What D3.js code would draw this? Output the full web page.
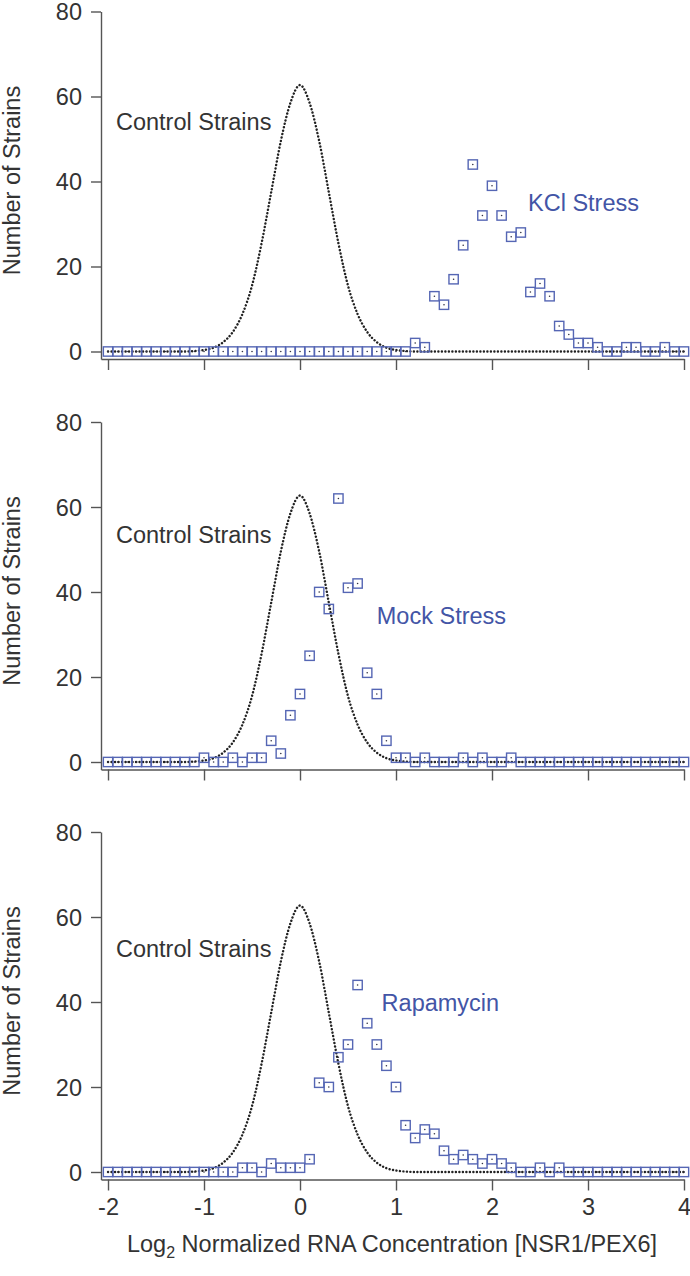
<!DOCTYPE html>
<html><head><meta charset="utf-8">
<script src="https://cdn.jsdelivr.net/npm/d3@7"></script>
<style>body{margin:0;background:#fff}svg{display:block}</style>
</head><body>
<script>
// ---------- data ----------
const binStart = -2.0, binStep = 0.1;
const kclValues = [
  0,0,0,0,0,0,0,0,0,0,   // -2.0 .. -1.1
  0,0,0,0,0,0,0,0,0,0,   // -1.0 .. -0.1
  0,0,0,0,0,0,0,0,0,0,   // 0.0 .. 0.9
  0,0,2,1,13,11,17,25,44,32, // 1.0 .. 1.9
  39,32,27,28,14,16,13,6,4,2, // 2.0 .. 2.9
  2,1,0,0,1,1,0,0,1,0,   // 3.0 .. 3.9
  0                      // 4.0
];
const mockValues = [
  0,0,0,0,0,0,0,0,0,0,
  1,0,0,1,0,1,1,5,2,11,
  16,25,40,36,62,41,42,21,16,5,
  1,1,0,1,0,0,0,1,0,1,
  0,0,1,0,0,0,0,0,0,0,
  0,0,0,0,0,0,0,0,0,0,
  0
];
const rapaValues = [
  0,0,0,0,0,0,0,0,0,0,
  0,0,0,0,1,1,0,2,1,1,
  1,3,21,20,27,30,44,35,30,25,
  20,11,8,10,9,5,3,4,3,2,
  3,2,1,0,0,1,0,1,0,0,
  0,0,0,0,0,0,0,0,0,0,
  0
];
// control strains fitted curve, read at these x positions
const controlX = [-2.0,-1.5,-1.2,-1.1,-1.0,-0.9,-0.8,-0.7,-0.6,-0.5,-0.4,-0.3,-0.2,-0.1,0.0,0.1,0.2,0.3,0.4,0.5,0.6,0.7,0.8,0.9,1.0,1.1,1.2,1.5,2.0,3.0,4.0];
const controlY = [0,0,0,0.1,0.35,0.9,2.2,4.6,8.8,15.5,25.5,37.5,49.5,58.5,62.7,58.5,49.5,37.5,25.5,15.5,8.8,4.6,2.2,0.9,0.35,0.1,0,0,0,0,0];
const panelNames = ["KCl Stress","Mock Stress","Rapamycin"];
const controlLabel = "Control Strains";
const yTicks = [0,20,40,60,80];
const xTicks = [-2,-1,0,1,2,3,4];
const yTitle = "Number of Strains";

// ---------- layout ----------
const W = 690, H = 1276;
const zeroYs = [351.5, 762, 1172];
const pxPerUnit = 4.25;
const blue = "#4355a6", sqBlue = "#5566b4", ink = "#333";
const font = "'Liberation Sans', Arial, Helvetica, sans-serif";
const fs = "23.5px";
const seriesLabelPos = [[2.375, 33.0],[0.80, 32.5],[0.85, 37.9]];
const controlLabelPos = [[-1.917, 52.1],[-1.917, 51.5],[-1.917, 50.6]];
const allSeries = [kclValues, mockValues, rapaValues];

const svg = d3.select("body").append("svg").attr("width", W).attr("height", H)
  .style("font-family", font);

const x = d3.scaleLinear().domain([-2.073, 4]).range([101, 684]);

allSeries.forEach((vals, i) => {
  const z = zeroYs[i];
  const y = d3.scaleLinear().domain([-7.5/pxPerUnit, 80]).range([z + 7.5, z - 340]);
  const g = svg.append("g");

  const ya = g.append("g").attr("transform", `translate(${x(-2.073)},0)`)
    .call(d3.axisLeft(y).tickValues(yTicks).tickSize(10).tickSizeOuter(0).tickPadding(9).tickFormat(d => String(d)));
  const xa = g.append("g").attr("transform", `translate(0,${y(-7.5/pxPerUnit)})`)
    .call(d3.axisBottom(x).tickValues(xTicks).tickSize(11).tickSizeOuter(0).tickPadding(8)
      .tickFormat(d => i === 2 ? String(d) : ""));
  [ya, xa].forEach(a => {
    a.select(".domain").attr("stroke", "#555").attr("stroke-width", 1.4);
    a.selectAll(".tick line").attr("stroke", "#555").attr("stroke-width", 1.4);
    a.selectAll(".tick text").attr("fill", ink).style("font-size", fs).style("font-family", font);
  });
  ya.selectAll(".tick text").attr("dy", "0.36em");

  const line = d3.line().x(d => x(d[0])).y(d => y(d[1])).curve(d3.curveMonotoneX);
  g.append("path").datum(controlX.map((cx, k) => [cx, controlY[k]]))
    .attr("d", line).attr("fill", "none").attr("stroke", "#222")
    .attr("stroke-width", 2.4).attr("stroke-linecap", "round")
    .attr("stroke-dasharray", "0.1 3.4");

  const pts = vals.map((v, k) => [binStart + k * binStep, v]);
  const s = 9.3;
  g.selectAll("rect.sq").data(pts).enter().append("rect")
    .attr("x", d => x(d[0]) - s/2).attr("y", d => y(d[1]) - s/2)
    .attr("width", s).attr("height", s)
    .attr("fill", "none").attr("stroke", sqBlue).attr("stroke-width", 1.4);
  g.selectAll("circle.dot").data(pts).enter().append("circle")
    .attr("cx", d => x(d[0])).attr("cy", d => y(d[1])).attr("r", 0.8)
    .attr("fill", "#334");

  g.append("text").attr("x", x(controlLabelPos[i][0])).attr("y", y(controlLabelPos[i][1]))
    .attr("fill", ink).style("font-size", fs).text(controlLabel);
  g.append("text").attr("x", x(seriesLabelPos[i][0])).attr("y", y(seriesLabelPos[i][1]))
    .attr("fill", blue).style("font-size", fs).text(panelNames[i]);

  g.append("text").attr("transform", `translate(20,${z - 171}) rotate(-90)`)
    .attr("text-anchor", "middle").attr("fill", ink).style("font-size", fs).text(yTitle);
});

const xt = svg.append("text").attr("x", 392).attr("y", 1252).attr("text-anchor", "middle")
  .attr("fill", ink).style("font-size", fs);
xt.append("tspan").text("Log");
xt.append("tspan").attr("dy", 6).style("font-size", "16px").text("2");
xt.append("tspan").attr("dy", -6).text(" Normalized RNA Concentration [NSR1/PEX6]");
</script>
</body></html>
